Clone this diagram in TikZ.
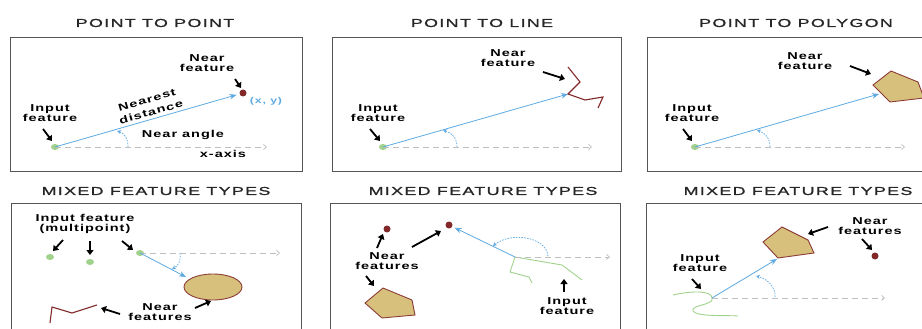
\documentclass[tikz,border=0pt]{standalone}
\usepackage{fontspec}
\setmainfont{Liberation Sans}
\newfontfamily\labfont[FakeStretch=1.45,LetterSpace=10]{Liberation Sans}
\newfontfamily\titfont[FakeStretch=1.55,LetterSpace=12,FakeBold=1.2]{Liberation Sans}
\usetikzlibrary{arrows.meta,shapes.geometric}
\definecolor{lblue}{RGB}{95,170,225}
\definecolor{ingreen}{RGB}{160,210,140}
\definecolor{nred}{RGB}{130,40,40}
\definecolor{polyfill}{RGB}{214,192,124}
\definecolor{polyedge}{RGB}{140,60,55}
\definecolor{framec}{RGB}{85,85,85}
\tikzset{
  frame/.style={draw=framec, line width=1pt},
  ttl/.style={font=\titfont\fontsize{11.5}{12}\selectfont, text=black!85, inner sep=0pt},
  lab/.style={font=\labfont\bfseries\fontsize{10}{10.5}\selectfont, align=center, inner sep=0pt},
  bluearr/.style={draw=lblue, line width=0.8pt, -{Stealth[length=7pt,width=5.5pt]}},
  xaxis/.style={draw=black!25, dash pattern=on 6pt off 4pt, line width=0.7pt, -{Straight Barb[length=3pt,width=5pt]}},
  angarc/.style={draw=lblue, dash pattern=on 1.6pt off 1.2pt, line width=0.7pt, -{Stealth[length=4pt,width=4pt]}},
  callout/.style={line width=1.8pt, -{Triangle[length=5pt,width=7pt]}},
  inpt/.style={ellipse, fill=ingreen, inner sep=0pt, minimum width=8pt, minimum height=6pt},
  nrpt/.style={circle, fill=nred, inner sep=0pt, minimum size=7pt},
  redline/.style={draw=nred, line width=1.1pt, line join=miter},
  greenline/.style={draw=ingreen, line width=0.9pt},
  poly/.style={fill=polyfill, draw=polyedge, line width=0.9pt, line join=miter},
}
\begin{document}
\begin{tikzpicture}[x=1pt,y=-1pt]
\clip (0,0) rectangle (922,329);
\fill[white] (0,0) rectangle (922,329);

% ---------- frames ----------
\draw[frame] (10,38) rectangle (302,171);
\draw[frame] (332,38) rectangle (621,171);
\draw[frame] (647,38) rectangle (935,171);
\draw[frame] (11,203) rectangle (301,340);
\draw[frame] (330,203) rectangle (620,340);
\draw[frame] (646,203) rectangle (935,340);

% ---------- titles ----------
\node[ttl] (t1) at (155,23) {POINT TO POINT};
\node[ttl] (t2) at (482,23) {POINT TO LINE};
\node[ttl] (t3) at (796,23) {POINT TO POLYGON};
\node[ttl] (t4) at (156,191) {MIXED FEATURE TYPES};
\node[ttl] (t5) at (483,191) {MIXED FEATURE TYPES};
\node[ttl] (t6) at (798,191) {MIXED FEATURE TYPES};

% ================= Panel 1 =================
\node[inpt] (p1) at (55,147) {};
\node[nrpt] (n1) at (243,93) {};
\draw[xaxis] (p1.center) -- (267,147) coordinate (x1);
\draw[bluearr, shorten >=3pt] (p1.center) -- (n1);
\draw[angarc] (128,147) .. controls (128,138) and (124,133) .. (117,131);
\node[lab] (l1a) at (207,63) {Near\\feature};
\coordinate (c1a) at (235,79); \coordinate (c1b) at (241,88);
\draw[callout] (c1a) -- (c1b);
\node[lab, text=lblue, font=\labfont\bfseries\fontsize{8.5}{9}\selectfont] (xy) at (266,101) {(x, y)};
\node[lab] (l1b) at (50,113) {Input\\feature};
\coordinate (c1c) at (43,129); \coordinate (c1d) at (52,141);
\draw[callout] (c1c) -- (c1d);
\node[lab, rotate=16] (nd1) at (147,100) {Nearest};
\node[lab, rotate=16] (nd2) at (151,112) {distance};
\node[lab] (na) at (183,135) {Near angle};
\node[lab] (xa) at (223,154) {x-axis};

% ================= Panel 2 =================
\node[inpt] (p2) at (383,147) {};
\coordinate (n2) at (568,94);
\draw[redline] (568,67) -- (580,82) -- (n2) -- (585,100) -- (603,97) -- (598,108);
\draw[xaxis] (p2.center) -- (592,147);
\draw[bluearr] (p2.center) -- (n2);
\draw[angarc] (457,147) .. controls (457,138) and (452,133) .. (443,130);
\node[lab] (l2a) at (508,58) {Near\\feature};
\coordinate (c2a) at (543,72); \coordinate (c2b) at (565,79);
\draw[callout] (c2a) -- (c2b);
\node[lab] (l2b) at (378,113) {Input\\feature};
\coordinate (c2c) at (370,129); \coordinate (c2d) at (380,141);
\draw[callout] (c2c) -- (c2d);

% ================= Panel 3 =================
\node[inpt] (p3) at (695,147) {};
\draw[poly] (873,85) -- (891,71) -- (918,82) -- (924,98) -- (890,102) -- cycle;
\coordinate (n3) at (879,94);
\draw[xaxis] (p3.center) -- (905,147);
\draw[bluearr] (p3.center) -- (n3);
\draw[angarc] (770,147) .. controls (770,138) and (765,133) .. (757,130);
\node[lab] (l3a) at (805,61) {Near\\feature};
\coordinate (c3a) at (850,66); \coordinate (c3b) at (871,74);
\draw[callout] (c3a) -- (c3b);
\node[lab] (l3b) at (692,113) {Input\\feature};
\coordinate (c3c) at (683,129); \coordinate (c3d) at (692,141);
\draw[callout] (c3c) -- (c3d);

% ================= Panel 4 =================
\node[inpt] (p4a) at (50,257) {};
\node[inpt] (p4b) at (90,262) {};
\node[inpt] (p4c) at (140,253) {};
\draw[poly] (213,287) ellipse (29 and 13);
\coordinate (n4) at (186,277);
\draw[xaxis] (p4c.center) -- (280,253);
\draw[bluearr] (p4c.center) -- (n4);
\draw[angarc] (180,253) .. controls (181,262) and (178,266) .. (172,269);
\draw[redline] (50,323) -- (52,307) -- (72,313) -- (97,305);
\node[lab] (l4a) at (85,224) {Input feature\\(multipoint)};
\coordinate (c4a) at (63,240); \coordinate (c4b) at (53,251);
\draw[callout] (c4a) -- (c4b);
\coordinate (c4c) at (90,241); \coordinate (c4d) at (90,255);
\draw[callout] (c4c) -- (c4d);
\coordinate (c4e) at (122,241); \coordinate (c4f) at (133,250);
\draw[callout] (c4e) -- (c4f);
\node[lab] (l4b) at (160,312) {Near\\features};
\coordinate (c4g) at (120,314); \coordinate (c4h) at (101,308);
\draw[callout] (c4g) -- (c4h);
\coordinate (c4i) at (195,308); \coordinate (c4j) at (211,301);
\draw[callout] (c4i) -- (c4j);

% ================= Panel 5 =================
\node[nrpt] (n5a) at (387,229) {};
\node[nrpt] (n5b) at (449,225) {};
\coordinate (o5) at (515,257);
\draw[greenline] (o5) -- (510,272) -- (529,277) -- (532,283);
\draw[greenline] (o5) -- (562,265) -- (582,280);
\draw[xaxis] (o5) -- (610,257);
\draw[bluearr, shorten >=2.5pt] (o5) -- (n5b);
\draw[angarc] (548,256) .. controls (546,236) and (510,232) .. (493,246);
\draw[poly] (365,303) -- (383,288) -- (412,300) -- (415,315) -- (382,318) -- cycle;
\node[lab] (l5a) at (387,261) {Near\\features};
\coordinate (c5a) at (377,248); \coordinate (c5b) at (383,234);
\draw[callout] (c5a) -- (c5b);
\coordinate (c5c) at (412,247); \coordinate (c5d) at (441,231);
\draw[callout] (c5c) -- (c5d);
\coordinate (c5e) at (366,276); \coordinate (c5f) at (374,286);
\draw[callout] (c5e) -- (c5f);
\node[lab] (l5b) at (567,306) {Input\\feature};
\coordinate (c5g) at (564,292); \coordinate (c5h) at (564,279);
\draw[callout] (c5g) -- (c5h);

% ================= Panel 6 =================
\coordinate (o6) at (712,298);
\draw[greenline] (673,295) .. controls (690,291) and (712,290) .. (o6)
  .. controls (715,305) and (690,305) .. (693,311)
  .. controls (697,317) and (725,315) .. (738,316);
\draw[poly] (763,242) -- (782,227) -- (808,240) -- (814,253) -- (778,258) -- cycle;
\coordinate (n6) at (777,259);
\draw[xaxis] (o6) -- (885,298);
\draw[bluearr] (o6) -- (n6);
\draw[angarc] (775,297) .. controls (776,288) and (768,279) .. (756,276);
\node[nrpt] (n6b) at (875,256) {};
\node[lab] (l6a) at (870,226) {Near\\features};
\coordinate (c6a) at (828,227); \coordinate (c6b) at (808,234);
\draw[callout] (c6a) -- (c6b);
\coordinate (c6c) at (862,239); \coordinate (c6d) at (872,250);
\draw[callout] (c6c) -- (c6d);
\node[lab] (l6b) at (700,263) {Input\\feature};
\coordinate (c6e) at (692,279); \coordinate (c6f) at (701,289);
\draw[callout] (c6e) -- (c6f);
\end{tikzpicture}
\end{document}
